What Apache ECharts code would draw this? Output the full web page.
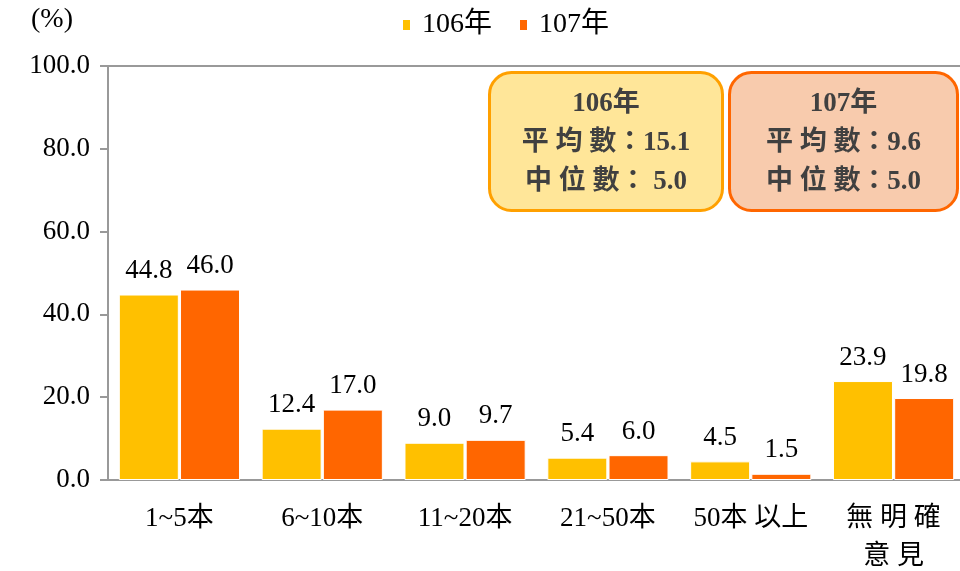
<!DOCTYPE html>
<html><head><meta charset="utf-8">
<script src="https://cdn.jsdelivr.net/npm/echarts@6/dist/echarts.min.js"></script>
<style>html,body{margin:0;padding:0;background:#fff}#c{width:960px;height:571px}</style>
</head><body><div id="c"></div>
<script>
var categories = ['1~5本', '6~10本', '11~20本', '21~50本', '50本 以上', '無 明 確\n意 見'];
var seriesNames = ['106年', '107年'];
var values106 = [44.8, 12.4, 9.0, 5.4, 4.5, 23.9];
var values107 = [46.0, 17.0, 9.7, 6.0, 1.5, 19.8];
var yTicks = [0, 20, 40, 60, 80, 100];
var boxMean = ['15.1', '9.6'];
var boxMedian = [' 5.0', '5.0'];

var serif = '"Liberation Serif","Noto Sans CJK TC",serif';
var chart = echarts.init(document.getElementById('c'));
var labelCfg = {show: true, position: 'top', distance: 10, fontFamily: serif, fontSize: 27, color: '#000',
  formatter: function (p) { return p.value.toFixed(1); }};

function box(x, y, w, h, fill, stroke, title, mean, median) {
  return {
    type: 'group', left: x, top: y,
    children: [
      {type: 'rect', shape: {x: 0, y: 0, width: w, height: h, r: 22}, style: {fill: fill, stroke: stroke, lineWidth: 3}},
      {type: 'text', x: w / 2, y: 32, style: {text: title, fontFamily: serif, fontWeight: 'bold', fontSize: 27, fill: '#404040', align: 'center', verticalAlign: 'middle'}},
      {type: 'text', x: w / 2, y: 71, style: {text: '平 均 數：' + mean, fontFamily: serif, fontWeight: 'bold', fontSize: 27, fill: '#404040', align: 'center', verticalAlign: 'middle'}},
      {type: 'text', x: w / 2, y: 110, style: {text: '中 位 數：' + median, fontFamily: serif, fontWeight: 'bold', fontSize: 27, fill: '#404040', align: 'center', verticalAlign: 'middle'}}
    ]
  };
}

chart.setOption({
  animation: false,
  backgroundColor: '#fff',
  grid: {left: 108, top: 66, width: 857, bottom: 91, containLabel: false, outerBoundsMode: 'none'},
  legend: {
    top: 6, left: 396, itemWidth: 9, itemHeight: 12, itemGap: 26,
    icon: 'rect',
    textStyle: {fontFamily: serif, fontSize: 28, color: '#000', padding: [0, 0, 0, 6]},
    data: seriesNames
  },
  xAxis: [{
    type: 'category', data: categories,
    axisLine: {lineStyle: {color: '#999', width: 2}},
    axisTick: {show: false},
    axisLabel: {fontFamily: serif, fontSize: 27, color: '#000', margin: 20, lineHeight: 38, interval: 0, verticalAlign: 'top'}
  }, {
    type: 'category', data: categories, position: 'top',
    axisLine: {show: true, lineStyle: {color: '#999', width: 2}},
    axisTick: {show: false}, axisLabel: {show: false}
  }],
  yAxis: {
    type: 'value', min: yTicks[0], max: yTicks[yTicks.length - 1], interval: 20,
    axisLine: {show: true, lineStyle: {color: '#999', width: 2}},
    axisTick: {show: true, length: 8, lineStyle: {color: '#999', width: 2}},
    splitLine: {show: false},
    axisLabel: {fontFamily: serif, fontSize: 27, color: '#000', margin: 18,
      formatter: function (v) { return v.toFixed(1); }}
  },
  series: [{
    name: seriesNames[0], type: 'bar', data: values106, barWidth: 60, barGap: '2%',
    itemStyle: {color: '#FFC000', borderColor: '#fff', borderWidth: 1},
    label: labelCfg
  }, {
    name: seriesNames[1], type: 'bar', data: values107, barWidth: 60,
    itemStyle: {color: '#FF6600', borderColor: '#fff', borderWidth: 1},
    label: labelCfg
  }],
  graphic: [
    {type: 'text', left: 31, top: 6, style: {text: '(%)', fontFamily: serif, fontSize: 28, fill: '#000'}},
    box(488, 71, 233, 138, '#FFE699', '#FFA000', seriesNames[0], boxMean[0], boxMedian[0]),
    box(728, 71, 228, 138, '#F8CBAD', '#FF6600', seriesNames[1], boxMean[1], boxMedian[1])
  ]
});
</script></body></html>
